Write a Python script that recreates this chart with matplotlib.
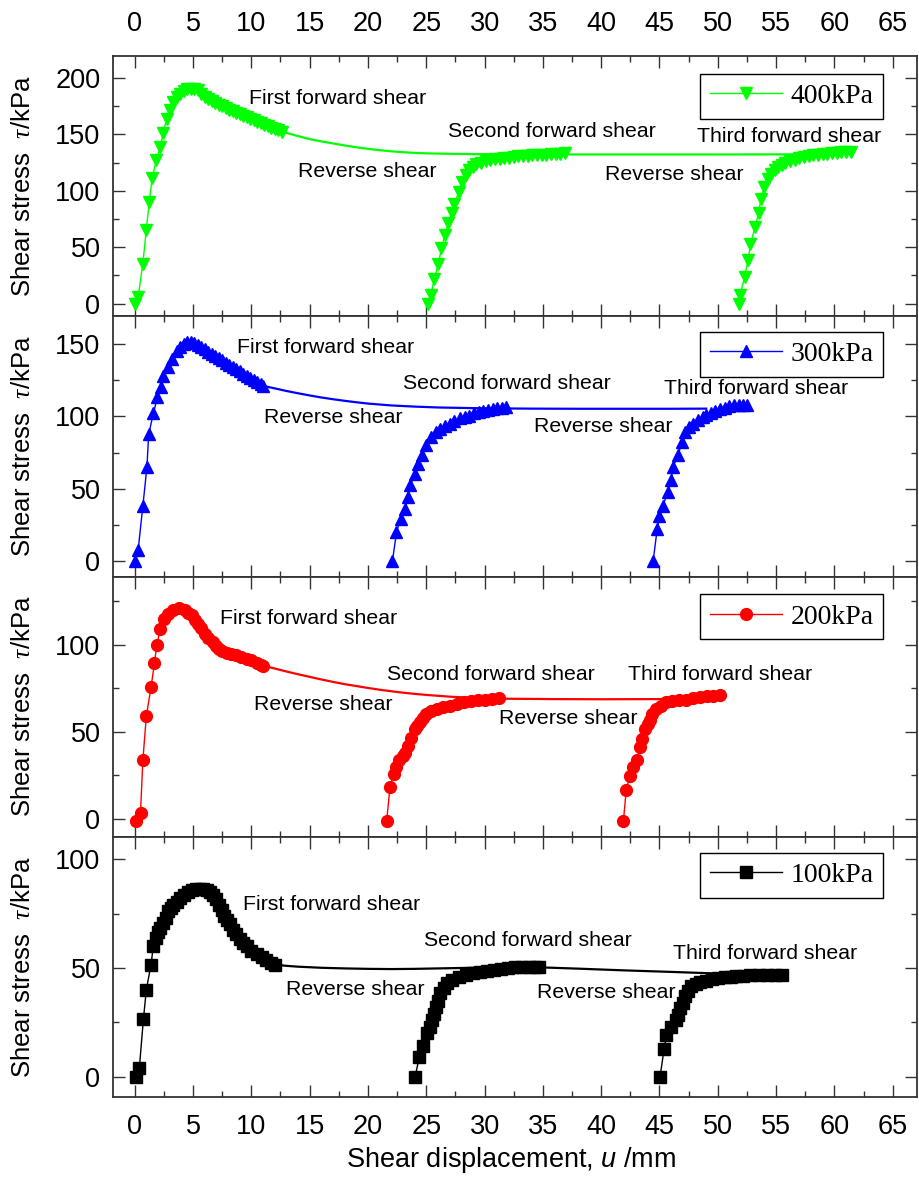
import matplotlib
matplotlib.use("Agg")
import matplotlib.pyplot as plt
from matplotlib.lines import Line2D
from matplotlib.ticker import MultipleLocator

plt.rcParams['font.family'] = ['Liberation Sans', 'DejaVu Sans']
plt.rcParams['mathtext.fontset'] = 'custom'
plt.rcParams['mathtext.it'] = 'Liberation Serif:italic'
plt.rcParams['mathtext.sf'] = 'Liberation Sans:italic'
plt.rcParams['mathtext.rm'] = 'Liberation Sans'

# ---- 400 kPa ----
u400_f1 = [0.0, 0.3, 0.7, 1.0, 1.25, 1.5, 1.85, 2.2, 2.45, 2.75, 3.0, 3.3, 3.6, 3.9, 4.2, 4.5, 4.8, 5.1, 5.4,
           5.7, 6.0, 6.3, 6.6, 6.9, 7.2, 7.5, 7.8, 8.1, 8.4, 8.7, 9.0, 9.3, 9.6, 9.9, 10.2, 10.5, 10.8, 11.1,
           11.4, 11.7, 12.0, 12.3, 12.6]
t400_f1 = [0, 6, 35.5, 65.5, 90, 111, 127, 139, 151.5, 164, 171.5, 179, 183, 186, 188.5, 190, 190.5, 190.5, 189,
           186, 183.5, 181.5, 180, 178, 176.5, 175, 173.5, 172, 170.5, 169, 168, 166.5, 165.5, 164, 162.5, 161,
           160, 158.5, 157.5, 156, 155, 154, 152.5]
u400_f2 = [25.15, 25.4, 25.7, 26.05, 26.3, 26.6, 26.9, 27.2, 27.4, 27.8, 28.1, 28.4, 28.7, 29.0, 29.3, 29.7,
           30.1, 30.5, 30.9, 31.3, 31.7, 32.1, 32.5, 32.9, 33.3, 33.7, 34.1, 34.5, 34.9, 35.3, 35.7, 36.1, 36.5,
           36.9]
t400_f2 = [0, 8, 22, 35.5, 49, 60.5, 71, 80, 88.5, 99, 108, 114, 118, 121, 123.5, 125, 126.5, 127.5, 128,
           128.5, 129, 129.5, 130, 130.5, 131, 131, 131.5, 131.5, 132, 132, 132.5, 133, 133, 133.5]
u400_f3 = [51.8, 51.9, 52.3, 52.6, 52.8, 53.2, 53.5, 53.7, 54.0, 54.3, 54.6, 54.9, 55.2, 55.5, 55.8, 56.2,
           56.6, 57.0, 57.4, 57.8, 58.2, 58.6, 59.0, 59.4, 59.8, 60.2, 60.6, 61.0, 61.4]
t400_f3 = [0, 7.5, 23.5, 39, 53, 68, 80, 93, 103.5, 110, 115, 118.5, 121, 123, 124.5, 126, 127.5, 129, 130,
           131, 131.5, 132, 132.5, 133, 133.5, 133.5, 134, 134, 134.5]
u400_rev = [12.6, 14, 15, 16, 17, 18, 19, 20, 21, 22, 23, 24, 25, 27, 29, 32, 36, 40, 45, 50, 56.5]
t400_rev = [152.5, 148.5, 145.8, 143.8, 142, 140.2, 138.6, 137.2, 136, 135, 134.2, 133.6, 133.2, 132.8,
            132.5, 132.3, 132.2, 132.2, 132.2, 132.2, 132.3]

# ---- 300 kPa ----
u300_f1 = [0.0, 0.3, 0.7, 1.05, 1.2, 1.6, 1.95, 2.3, 2.45, 2.9, 3.2, 3.6, 3.9, 4.2, 4.5, 4.8, 5.1, 5.4, 5.7,
           6.0, 6.3, 6.6, 6.9, 7.2, 7.5, 7.8, 8.1, 8.4, 8.7, 9.0, 9.3, 9.6, 9.9, 10.2, 10.5, 10.8, 11.0]
t300_f1 = [0, 8, 38, 65, 87.5, 102, 113, 120.5, 127.5, 134, 139.5, 145, 148, 150, 151, 151.5, 150.5, 149.5,
           148, 146.5, 144.5, 143, 141.5, 140, 138.5, 137, 135.5, 134, 132.5, 131, 129.5, 128, 126.5, 125,
           123.5, 122, 121]
u300_f2 = [22.1, 22.45, 22.8, 23.2, 23.4, 23.65, 24.0, 24.3, 24.6, 25.0, 25.45, 25.8, 26.2, 26.6, 27.0, 27.4,
           27.9, 28.3, 28.7, 29.1, 29.5, 29.9, 30.3, 30.7, 31.1, 31.5, 31.8]
t300_f2 = [0, 20, 29.5, 36, 44.5, 52.5, 60, 67, 73, 80, 86, 89, 91.5, 93.5, 95, 96.5, 98.5, 99.5, 100.5, 102,
           103, 104, 104.5, 105, 105.5, 106, 106.5]
u300_f3 = [44.45, 44.8, 45.0, 45.3, 45.7, 46.0, 46.15, 46.6, 46.9, 47.2, 47.55, 47.9, 48.3, 48.7, 49.0, 49.4,
           49.8, 50.2, 50.6, 51.0, 51.4, 51.8, 52.2, 52.5]
t300_f3 = [0, 22, 31, 38, 48, 56, 65, 73, 82, 89, 92.5, 95, 97.5, 99.5, 101, 102.5, 104, 105, 106, 107, 107.5,
           107.5, 107.5, 107.5]
u300_rev = [11.0, 12, 13, 14, 15, 16, 17, 18, 19, 20, 22, 24, 26, 28, 30, 34, 38, 42, 46, 49]
t300_rev = [121, 119.3, 117.5, 115.9, 114.4, 113, 111.8, 110.7, 109.7, 108.8, 107.5, 106.7, 106.1, 105.8,
            105.5, 105.3, 105.2, 105.2, 105.2, 105.3]

# ---- 200 kPa ----
u200_f1 = [0.1, 0.5, 0.7, 1.0, 1.4, 1.7, 1.9, 2.2, 2.5, 2.9, 3.3, 3.8, 4.3, 4.6, 4.9, 5.2, 5.45, 5.7, 6.0,
           6.3, 6.7, 7.0, 7.2, 7.5, 7.9, 8.3, 8.7, 9.1, 9.6, 10.0, 10.45, 10.8, 11.0]
t200_f1 = [-1.5, 3.3, 33.5, 59, 75.5, 89.5, 100, 109, 115, 118, 120, 121, 120, 118.5, 117, 114.5, 112, 109.5,
           106.5, 104, 101.5, 99.5, 97.5, 96.5, 95.5, 94.5, 94, 93, 92, 91, 89.5, 88.5, 88]
u200_f2 = [21.6, 21.9, 22.2, 22.45, 22.7, 23.0, 23.2, 23.45, 23.7, 24.0, 24.2, 24.45, 24.7, 25.0, 25.4, 25.9,
           26.4, 27.0, 27.6, 28.2, 28.8, 29.4, 30.0, 30.6, 31.2]
t200_f2 = [-1.5, 18.5, 25.5, 30, 34, 36, 38, 42, 46.5, 51.5, 53.5, 55.5, 58, 60, 62, 63, 64, 65, 66, 67, 67.5,
           68, 68.5, 69, 69.5]
u200_f3 = [41.9, 42.15, 42.45, 42.7, 43.1, 43.3, 43.5, 43.8, 44.0, 44.15, 44.4, 44.7, 45.1, 45.6, 46.1, 46.7,
           47.3, 47.9, 48.5, 49.1, 49.6, 50.15]
t200_f3 = [-1.5, 16.5, 24.5, 29.5, 34, 41, 46, 51.5, 54.5, 57, 60, 63, 65, 67, 67.5, 68, 68.5, 69.5, 70, 70.5,
           70.5, 71]
u200_rev = [11.0, 12, 13, 14, 15, 16, 17, 18, 19, 20, 21, 22, 23, 24, 25, 27, 29, 32, 36, 40, 45.3]
t200_rev = [88, 86.4, 84.7, 83.1, 81.6, 80.1, 78.7, 77.4, 76.3, 75.2, 74.2, 73.3, 72.5, 71.8, 71.2, 70.2,
            69.5, 69, 68.8, 68.7, 68.8]

# ---- 100 kPa ----
u100_f1 = [0.15, 0.4, 0.75, 1.0, 1.4, 1.6, 1.8, 2.0, 2.2, 2.45, 2.7, 2.9, 3.1, 3.3, 3.6, 3.9, 4.2, 4.6, 4.9,
           5.3, 5.6, 5.9, 6.2, 6.45, 6.7, 7.0, 7.2, 7.45, 7.7, 7.9, 8.2, 8.45, 8.7, 9.0, 9.3, 9.6, 10.0, 10.45,
           10.9, 11.3, 11.7, 12.05]
t100_f1 = [0, 4, 26.5, 40, 51.5, 60, 64, 66.5, 68.5, 70.5, 73, 76, 77.5, 79, 80.5, 82, 83.5, 85, 86, 86.5,
           86.5, 86.5, 86, 85, 83.5, 81.5, 79, 76.5, 74, 72, 70, 67.5, 65.5, 63.5, 61.5, 60, 58, 56.5, 55,
           53.5, 52.5, 51.5]
u100_f2 = [24.05, 24.4, 24.7, 25.1, 25.3, 25.5, 25.7, 25.85, 26.0, 26.2, 26.5, 26.8, 27.2, 27.8, 28.4, 29.0,
           29.6, 30.2, 30.8, 31.4, 32.0, 32.6, 33.2, 33.8, 34.3, 34.7]
t100_f2 = [0, 9, 14, 20, 23, 26, 29, 32, 35, 38.5, 41, 43, 44.5, 46, 47, 47.5, 48, 48.5, 49, 49.5, 50, 50.3,
           50.3, 50.3, 50.3, 50.3]
u100_f3 = [45.05, 45.4, 45.6, 46.0, 46.4, 46.6, 46.8, 47.0, 47.2, 47.45, 47.7, 48.1, 48.5, 49.0, 49.5, 50.05,
           50.6, 51.1, 51.6, 52.2, 52.8, 53.5, 54.2, 54.9, 55.5]
t100_f3 = [0, 13, 19, 23, 26, 28.5, 31.5, 34, 37, 39.5, 41.5, 42.5, 43.5, 44.2, 44.8, 45.3, 45.7, 46, 46.3,
           46.5, 46.7, 46.8, 46.8, 46.8, 46.8]
u100_rev = [12.05, 13, 14, 16, 18, 20, 22, 24, 26, 28, 30, 32, 34.7, 38, 42, 46, 50.8]
t100_rev = [51.5, 51, 50.6, 50.1, 49.8, 49.6, 49.5, 49.6, 49.8, 50, 50.2, 50.3, 50.3, 49.7, 48.9, 48.2, 47.3]

labels = ['400kPa', '300kPa', '200kPa', '100kPa']
colors = ['#00ff00', '#0000ff', '#ff0000', '#000000']
markers = ['v', '^', 'o', 's']

forward = [
    [(u400_f1, t400_f1), (u400_f2, t400_f2), (u400_f3, t400_f3)],
    [(u300_f1, t300_f1), (u300_f2, t300_f2), (u300_f3, t300_f3)],
    [(u200_f1, t200_f1), (u200_f2, t200_f2), (u200_f3, t200_f3)],
    [(u100_f1, t100_f1), (u100_f2, t100_f2), (u100_f3, t100_f3)],
]
reverse = [(u400_rev, t400_rev), (u300_rev, t300_rev), (u200_rev, t200_rev), (u100_rev, t100_rev)]

ylims = [(-11.3, 219.5), (-10.5, 169), (-10.4, 139.3), (-9.3, 110.3)]
yticks = [[0, 50, 100, 150, 200], [0, 50, 100, 150], [0, 50, 100], [0, 50, 100]]

# annotation positions (left edge, centre) in data coords
notes = [
    [('First forward shear', 9.8, 182), ('Reverse shear', 14.0, 116.8), ('Second forward shear', 26.9, 152.3),
     ('Reverse shear', 40.3, 114.8), ('Third forward shear', 48.2, 147.9)],
    [('First forward shear', 8.8, 147.7), ('Reverse shear', 11.1, 99.2), ('Second forward shear', 23.0, 122.5),
     ('Reverse shear', 34.2, 93.2), ('Third forward shear', 45.4, 119.4)],
    [('First forward shear', 7.3, 115), ('Reverse shear', 10.2, 65.9), ('Second forward shear', 21.6, 83.2),
     ('Reverse shear', 31.2, 57.8), ('Third forward shear', 42.3, 83.2)],
    [('First forward shear', 9.25, 79), ('Reverse shear', 13.0, 40.2), ('Second forward shear', 24.8, 62.6),
     ('Reverse shear', 34.5, 38.7), ('Third forward shear', 46.2, 56.8)],
]
leg_top = [0.931, 0.94, 0.931, 0.938]

fig, axes = plt.subplots(4, 1, figsize=(9.2, 11.87), dpi=100, sharex=True)
fig.subplots_adjust(left=0.1228, right=0.997, top=0.9528, bottom=0.0758, hspace=0)

for i, ax in enumerate(axes):
    c = colors[i]
    # reverse shear curve (line only)
    ax.plot(reverse[i][0], reverse[i][1], color=c, lw=1.6, zorder=2)
    for u, t in forward[i]:
        ax.plot(u, t, color=c, lw=1.0, marker=markers[i], ms=8.5, mec=c, mfc=c, zorder=3)

    for txt, x, y in notes[i]:
        ax.text(x, y, txt, fontsize=15.3, ha='left', va='center')

    h = Line2D([], [], color=c, lw=1.0, marker=markers[i], ms=8.5, mec=c, mfc=c)
    leg = ax.legend([h], [labels[i]], loc='upper right', bbox_to_anchor=(0.958, leg_top[i]),
                    borderaxespad=0, numpoints=1, handlelength=2.6, handletextpad=0.3, borderpad=0.35,
                    fancybox=False, framealpha=1, edgecolor='black',
                    prop={'family': 'Liberation Serif', 'size': 20})
    leg.get_frame().set_linewidth(1.0)

    ax.set_xlim(-1.86, 67.1)
    ax.set_ylim(*ylims[i])
    ax.set_yticks(yticks[i])
    ax.yaxis.set_minor_locator(MultipleLocator(25))
    ax.xaxis.set_major_locator(MultipleLocator(5))
    ax.xaxis.set_minor_locator(MultipleLocator(2.5))
    ax.tick_params(which='both', direction='in', top=True, right=True, width=1.0, color='#333333')
    ax.tick_params(which='major', length=8.5)
    ax.tick_params(which='minor', length=4.3)
    ax.tick_params(axis='y', labelsize=19.5, pad=9)
    ax.tick_params(axis='x', labelsize=19.5, labelbottom=False, labeltop=False)
    for s in ax.spines.values():
        s.set_linewidth(1.3)
        s.set_color('#333333')

    box = ax.get_position()
    fig.text(0.0245, (box.y0 + box.y1) / 2, 'Shear stress  $\\tau$/kPa', rotation=90,
             ha='center', va='center', fontsize=18.5)

axes[0].tick_params(axis='x', labeltop=True, pad=14)
axes[-1].tick_params(axis='x', labelbottom=True, pad=12)

fig.text(0.556, 0.0227, 'Shear displacement, $\\mathsf{u}$ /mm', ha='center', va='center', fontsize=19.5)

fig.savefig('out.png', dpi=100)
